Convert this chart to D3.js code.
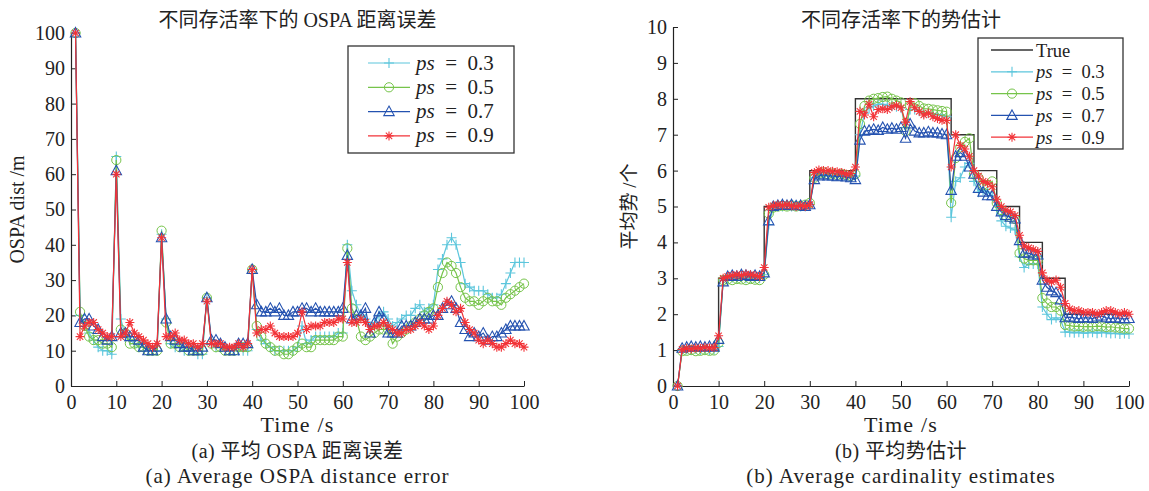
<!DOCTYPE html>
<html>
<head>
<meta charset="utf-8">
<script src="https://cdn.jsdelivr.net/npm/d3@7"></script>
<style>
body { margin: 0; background: #fff; }
text { font-family: "Liberation Serif", "DejaVu Serif", "Noto Sans CJK SC", serif; fill: #222; }
</style>
</head>
<body>
<svg id="chart" width="1149" height="491"></svg>
<script>
// time steps 1..100
const steps = d3.range(1, 101);
const xTicks = [0, 10, 20, 30, 40, 50, 60, 70, 80, 90, 100];
const ospaTicks = [0, 10, 20, 30, 40, 50, 60, 70, 80, 90, 100];
const cardTicks = [0, 1, 2, 3, 4, 5, 6, 7, 8, 9, 10];
const seriesNames = ["0.3", "0.5", "0.7", "0.9"];

// (a) OSPA distance, one array per survival probability
const ospa03 = [
  100, 20, 17, 15, 13, 11, 10, 10, 9, 65,
  19, 14, 13, 12, 11, 11, 10, 10, 10, 43,
  19, 12, 11, 11, 10, 10, 10, 9, 9, 25,
  12, 11, 11, 11, 10, 10, 10, 10, 10, 33,
  16, 13, 12, 11, 10, 10, 10, 10, 10, 11,
  17, 12, 13, 14, 14, 14, 14, 14, 15, 15,
  40, 27, 23, 20, 19, 17, 18, 20, 21, 19,
  17, 18, 19, 20, 20, 22, 23, 21, 22, 23,
  33, 36, 40, 42, 40, 35, 29, 28, 27, 27,
  27, 26, 25, 25, 26, 29, 32, 35, 35, 35
];
const ospa05 = [
  100, 21, 17, 14, 13, 13, 12, 12, 11, 64,
  16, 15, 12, 12, 11, 11, 10, 10, 10, 44,
  18, 12, 12, 11, 11, 10, 10, 10, 10, 25,
  12, 11, 11, 10, 10, 10, 11, 11, 11, 33,
  17, 14, 12, 11, 10, 10, 9, 9, 10, 11,
  12, 11, 11, 13, 13, 13, 13, 13, 14, 14,
  39, 22, 19, 14, 13, 14, 15, 16, 16, 16,
  12, 14, 15, 16, 17, 18, 19, 20, 21, 22,
  28, 32, 35, 34, 32, 28, 25, 24, 24, 23,
  24, 25, 24, 24, 23, 25, 26, 27, 28, 29
];
const ospa07 = [
  100, 18, 19, 19, 17, 16, 14, 13, 14, 61,
  15, 15, 14, 14, 13, 11, 10, 10, 11, 42,
  19, 14, 13, 12, 11, 11, 10, 10, 11, 25,
  13, 13, 12, 11, 10, 10, 12, 12, 12, 33,
  23, 21, 21, 22, 21, 22, 20, 20, 21, 21,
  22, 22, 21, 22, 21, 21, 21, 21, 21, 22,
  37, 19, 20, 20, 22, 15, 18, 21, 19, 15,
  15, 15, 17, 17, 17, 18, 19, 19, 19, 20,
  20, 22, 23, 24, 22, 18, 16, 14, 15, 14,
  15, 13, 14, 14, 15, 16, 17, 17, 17, 17
];
const ospa09 = [
  100, 14, 17, 18, 18, 16, 15, 14, 14, 60,
  14, 15, 18, 15, 14, 13, 12, 11, 12, 42,
  14, 14, 15, 13, 13, 12, 12, 11, 12, 24,
  12, 12, 12, 11, 11, 11, 12, 11, 12, 33,
  15, 16, 16, 17, 15, 14, 14, 14, 14, 15,
  21, 16, 17, 17, 17, 18, 18, 18, 19, 19,
  35, 18, 18, 19, 18, 16, 17, 17, 18, 17,
  16, 15, 15, 16, 16, 17, 18, 17, 16, 17,
  20, 22, 24, 23, 21, 22, 18, 16, 15, 13,
  12, 13, 12, 11, 11, 12, 13, 12, 12, 11
];

// (b) cardinality
const cardTrue = [
  1, 1, 1, 1, 1, 1, 1, 1, 1, 3,
  3, 3, 3, 3, 3, 3, 3, 3, 3, 5,
  5, 5, 5, 5, 5, 5, 5, 5, 5, 6,
  6, 6, 6, 6, 6, 6, 6, 6, 6, 8,
  8, 8, 8, 8, 8, 8, 8, 8, 8, 8,
  8, 8, 8, 8, 8, 8, 8, 8, 8, 8,
  7, 7, 7, 7, 7, 6, 6, 6, 6, 6,
  5, 5, 5, 5, 5, 4, 4, 4, 4, 4,
  3, 3, 3, 3, 3, 2, 2, 2, 2, 2,
  2, 2, 2, 2, 2, 2, 2, 2, 2, 2
];
const card03 = [
  0, 1.0, 1.02, 1.0, 1.03, 1.0, 1.02, 1.0, 1.02, 1.1,
  2.95, 3.0, 3.02, 3.0, 3.03, 3.0, 3.02, 3.0, 3.0, 3.1,
  4.5, 4.95, 5.0, 5.0, 5.02, 5.0, 5.02, 5.0, 5.0, 5.05,
  5.8, 5.88, 5.9, 5.88, 5.85, 5.87, 5.85, 5.85, 5.82, 5.85,
  7.0, 7.6, 7.75, 7.8, 7.85, 7.85, 7.82, 7.8, 7.78, 7.75,
  7.2, 7.7, 7.7, 7.65, 7.6, 7.6, 7.58, 7.55, 7.55, 7.5,
  4.7, 5.7, 5.8, 6.1, 6.2, 5.7, 5.4, 5.45, 5.4, 5.3,
  4.9, 4.6, 4.45, 4.4, 4.35, 3.6, 3.3, 3.4, 3.4, 3.4,
  2.2, 2.0, 1.85, 1.9, 1.85, 1.5, 1.5, 1.48, 1.5, 1.47,
  1.48, 1.5, 1.47, 1.5, 1.48, 1.46, 1.47, 1.45, 1.46, 1.45
];
const card05 = [
  0, 0.97, 0.98, 1.0, 0.97, 0.98, 1.0, 0.98, 0.99, 1.2,
  2.95, 2.97, 2.95, 2.98, 2.97, 2.95, 2.98, 2.96, 2.95, 3.1,
  4.8, 4.97, 5.0, 5.02, 5.0, 5.03, 5.0, 5.02, 5.05, 5.1,
  5.8, 5.92, 5.95, 5.9, 5.92, 5.88, 5.9, 5.88, 5.85, 5.9,
  7.3, 7.8, 7.95, 8.0, 8.02, 8.05, 8.06, 8.0, 7.95, 7.9,
  7.1, 7.8, 7.88, 7.8, 7.73, 7.72, 7.7, 7.68, 7.66, 7.64,
  5.1, 6.35, 6.65, 6.8, 6.9, 5.9, 5.8, 5.6, 5.6, 5.7,
  5.1, 4.9, 4.75, 4.7, 4.65, 3.7, 3.55, 3.5, 3.5, 3.5,
  2.45, 2.3, 2.2, 2.2, 2.1, 1.7, 1.68, 1.66, 1.67, 1.65,
  1.66, 1.65, 1.67, 1.66, 1.64, 1.65, 1.63, 1.62, 1.6, 1.6
];
const card07 = [
  0, 1.05, 1.08, 1.1, 1.08, 1.1, 1.08, 1.1, 1.08, 1.3,
  2.9, 3.05, 3.08, 3.05, 3.1, 3.08, 3.05, 3.08, 3.05, 3.15,
  4.6, 5.0, 5.03, 5.05, 5.03, 5.05, 5.02, 5.03, 5.0, 5.05,
  5.75, 5.85, 5.88, 5.85, 5.85, 5.83, 5.85, 5.82, 5.8, 5.75,
  6.85, 7.1, 7.12, 7.15, 7.12, 7.2, 7.15, 7.18, 7.15, 7.2,
  6.9, 7.3, 7.1, 7.05, 7.05, 7.08, 7.05, 7.05, 7.02, 7.0,
  5.45, 6.4, 6.5, 6.4, 6.1, 5.9, 5.5, 5.4, 5.3, 5.3,
  5.0, 4.85, 4.75, 4.7, 4.65, 4.05, 3.7, 3.7, 3.65, 3.65,
  2.95, 2.75, 2.65, 2.6, 2.4, 1.9, 1.92, 1.9, 1.88, 1.9,
  1.9, 1.88, 1.92, 1.95, 1.9, 1.88, 1.9, 1.88, 1.87, 1.88
];
const card09 = [
  0, 1.02, 1.05, 1.03, 1.06, 1.05, 1.08, 1.06, 1.07, 1.4,
  3.0, 3.05, 3.08, 3.1, 3.08, 3.12, 3.1, 3.08, 3.05, 3.3,
  4.98, 5.02, 5.05, 5.03, 5.05, 5.02, 5.0, 5.03, 5.0, 5.05,
  5.95, 6.02, 6.0, 6.0, 5.98, 5.97, 5.95, 5.9, 5.92, 6.1,
  7.65, 7.55, 7.85, 7.5, 7.7, 7.72, 7.7, 7.78, 7.82, 7.75,
  7.35, 7.92, 7.75, 7.65, 7.55, 7.6, 7.5, 7.45, 7.4, 7.4,
  6.1, 7.0, 6.7, 6.6, 6.4, 6.0, 5.85, 5.7, 5.65, 5.55,
  5.2, 5.0, 4.9, 4.85, 4.75, 4.2, 3.9, 3.85, 3.8, 3.75,
  3.15, 2.95, 2.9, 2.95, 2.75, 2.3, 2.15, 2.1, 2.1, 2.05,
  2.05, 2.05, 2.0, 2.05, 2.1, 2.1, 2.05, 2.0, 2.05, 2.0
];

const colors = ["#5cc6dc", "#76c44a", "#2452b0", "#f23338"];
const markers = ["plus", "circle", "triangle", "star"];

const svg = d3.select("#chart");

function markerPath(type) {
  if (type === "plus") return "M-5,0H5M0,-5V5";
  if (type === "triangle") return "M0,-5.5L5.2,4H-5.2Z";
  if (type === "star") return "M-4.5,0H4.5M0,-4.5V4.5M-3.2,-3.2L3.2,3.2M-3.2,3.2L3.2,-3.2";
  return null;
}

function addMarker(sel, type, color) {
  if (type === "circle") {
    sel.append("circle").attr("r", 4.6).attr("fill", "none")
      .attr("stroke", color).attr("stroke-width", 1);
  } else {
    sel.append("path").attr("d", markerPath(type)).attr("fill", "none")
      .attr("stroke", color).attr("stroke-width", 1.1);
  }
}

function drawPanel(cfg) {
  const x = d3.scaleLinear().domain([0, 100]).range(cfg.xRange);
  const y = d3.scaleLinear().domain(cfg.yDomain).range(cfg.yRange);
  const g = svg.append("g");

  // axes, matlab style ticks pointing inward
  g.append("g")
    .attr("transform", `translate(0,${cfg.yRange[0]})`)
    .call(d3.axisBottom(x).tickValues(xTicks).tickSizeInner(-5).tickSizeOuter(0).tickPadding(9))
    .call(a => a.select(".domain").attr("stroke", "#222").attr("stroke-width", 1.2))
    .call(a => a.selectAll(".tick line").attr("stroke", "#222"))
    .call(a => a.selectAll("text").attr("font-size", 20).attr("fill", "#222")
      .style("font-family", '"Liberation Serif", serif'));

  g.append("g")
    .attr("transform", `translate(${cfg.xRange[0]},0)`)
    .call(d3.axisLeft(y).tickValues(cfg.yTicks).tickSizeInner(-5).tickSizeOuter(0).tickPadding(6))
    .call(a => a.select(".domain").attr("stroke", "#222").attr("stroke-width", 1.2))
    .call(a => a.selectAll(".tick line").attr("stroke", "#222"))
    .call(a => a.selectAll("text").attr("font-size", 20).attr("fill", "#222")
      .style("font-family", '"Liberation Serif", serif'));

  if (cfg.truth) {
    g.append("path")
      .datum(cfg.truth)
      .attr("fill", "none")
      .attr("stroke", "#333")
      .attr("stroke-width", 1.4)
      .attr("d", d3.line().curve(d3.curveStepAfter).x((d, i) => x(steps[i])).y(d => y(d)));
  }

  cfg.series.forEach((vals, k) => {
    g.append("path")
      .datum(vals)
      .attr("fill", "none")
      .attr("stroke", colors[k])
      .attr("stroke-width", 1.2)
      .attr("d", d3.line().x((d, i) => x(steps[i])).y(d => y(d)));
    const m = g.append("g").selectAll("g")
      .data(vals)
      .join("g")
      .attr("transform", (d, i) => `translate(${x(steps[i])},${y(d)})`);
    addMarker(m, markers[k], colors[k]);
  });

  // titles
  const cx = (cfg.xRange[0] + cfg.xRange[1]) / 2;
  g.append("text").attr("x", cx).attr("y", 27).attr("text-anchor", "middle")
    .attr("font-size", 20).text(cfg.title);
  g.append("text").attr("x", cx).attr("y", 432).attr("text-anchor", "middle")
    .attr("font-size", 22).attr("letter-spacing", 1.2).text("Time /s");
  g.append("text").attr("x", cx).attr("y", 458).attr("text-anchor", "middle")
    .attr("font-size", 20).attr("letter-spacing", 0.4).text(cfg.caption1);
  g.append("text").attr("x", cx).attr("y", 483).attr("text-anchor", "middle")
    .attr("font-size", 21).attr("letter-spacing", 1).text(cfg.caption2);
  g.append("text")
    .attr("transform", `translate(${cfg.yLabelX},${(cfg.yRange[0] + cfg.yRange[1]) / 2}) rotate(-90)`)
    .attr("text-anchor", "middle").attr("font-size", cfg.yLabelSize).text(cfg.yLabel);

  // legend
  const L = cfg.legend;
  const lg = g.append("g");
  lg.append("rect").attr("x", L.x).attr("y", L.y).attr("width", L.w).attr("height", L.h)
    .attr("fill", "#fff").attr("stroke", "#333").attr("stroke-width", 1.3);
  let rows = [];
  if (cfg.truth) rows.push({ label: "True", k: -1 });
  seriesNames.forEach((s, k) => rows.push({ label: s, k }));
  rows.forEach((r, i) => {
    const yy = L.y + L.top + i * L.dy;
    const col = r.k < 0 ? "#333" : colors[r.k];
    lg.append("line").attr("x1", L.x + L.lx0).attr("x2", L.x + L.lx1)
      .attr("y1", yy).attr("y2", yy).attr("stroke", col).attr("stroke-width", r.k < 0 ? 1.4 : 1.2);
    if (r.k >= 0) {
      const mk = lg.append("g").attr("transform", `translate(${L.x + (L.lx0 + L.lx1) / 2},${yy})`);
      addMarker(mk, markers[r.k], col);
    }
    const t = lg.append("text").attr("x", L.x + L.tx).attr("y", yy + 6.5).attr("font-size", L.fs);
    if (r.k < 0) {
      t.text(r.label);
    } else {
      t.append("tspan").attr("font-style", "italic").text("ps");
      t.append("tspan").text("\u2002=\u2002" + r.label);
    }
  });
}

drawPanel({
  xRange: [71, 524],
  yDomain: [0, 100],
  yRange: [386, 33],
  yTicks: ospaTicks,
  series: [ospa03, ospa05, ospa07, ospa09],
  title: "不同存活率下的 OSPA 距离误差",
  yLabel: "OSPA dist /m",
  yLabelX: 24,
  yLabelSize: 20,
  caption1: "(a) 平均 OSPA 距离误差",
  caption2: "(a) Average OSPA distance error",
  legend: { x: 348, y: 46, w: 166, h: 107, top: 17, dy: 24.3, lx0: 20, lx1: 62, tx: 68, fs: 21 }
});

drawPanel({
  xRange: [673, 1129],
  yDomain: [0, 10],
  yRange: [386, 27],
  yTicks: cardTicks,
  series: [card03, card05, card07, card09],
  truth: cardTrue,
  title: "不同存活率下的势估计",
  yLabel: "平均势 /个",
  yLabelX: 636,
  yLabelSize: 19,
  caption1: "(b) 平均势估计",
  caption2: "(b) Average cardinality estimates",
  legend: { x: 978, y: 38, w: 145, h: 111, top: 12, dy: 21.8, lx0: 13, lx1: 55, tx: 58, fs: 18.5 }
});
</script>
</body>
</html>
